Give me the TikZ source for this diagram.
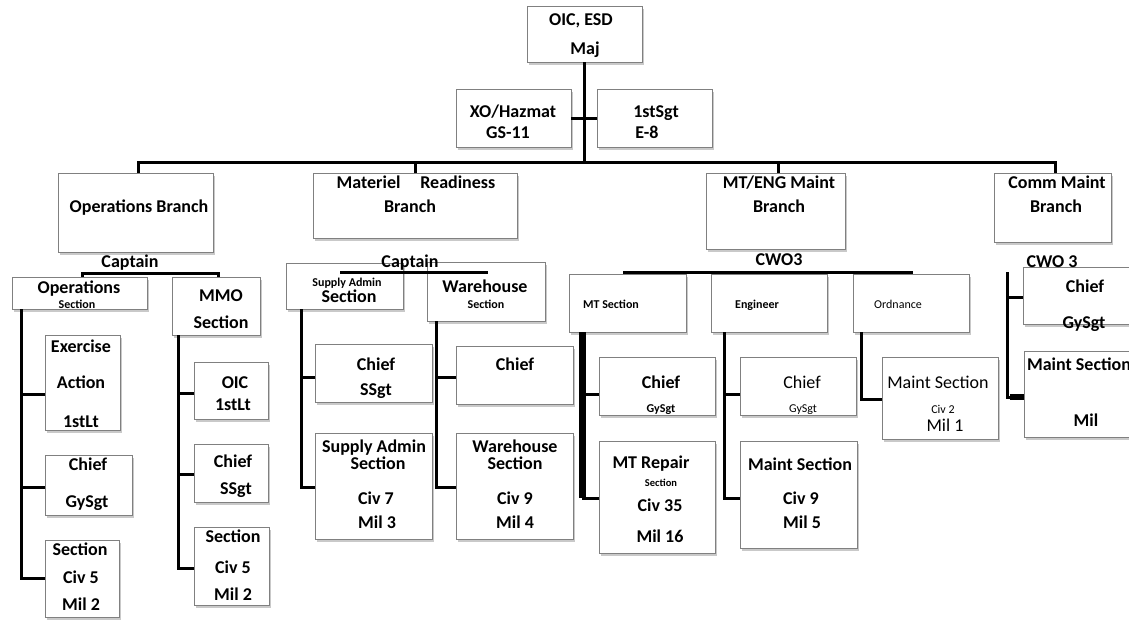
\documentclass[tikz,border=0pt]{standalone}
\usepackage{fontspec}
\setmainfont{Carlito}
\usetikzlibrary{shadows}
\newcommand{\obox}[5]{%
  \pgfmathsetmacro{\myBW}{#4-#2}%
  \pgfmathsetmacro{\myBH}{#5-#3}%
  \pgfmathsetmacro{\myBX}{(#2+#4)/2}%
  \pgfmathsetmacro{\myBY}{(#3+#5)/2}%
  \node[box, minimum width=\myBW pt, minimum height=\myBH pt] (#1) at (\myBX,\myBY) {};}
\tikzset{
  box/.style={draw=black!50, line width=1pt, fill=white, inner sep=0pt, outer sep=0pt,
    drop shadow={shadow xshift=1.5pt, shadow yshift=-2.5pt, opacity=0.3, fill=black!70}},
  txtbase/.style={inner sep=0pt, text height=0.64em, text depth=0pt, yshift=-2.5pt},
  big/.style={txtbase, font=\fontsize{18}{20}\selectfont\bfseries},
  bigr/.style={txtbase, font=\fontsize{18}{20}\selectfont},
  small/.style={txtbase, font=\fontsize{12}{14}\selectfont\bfseries},
  smallr/.style={txtbase, font=\fontsize{12}{14}\selectfont},
  tiny/.style={txtbase, font=\fontsize{10.5}{12}\selectfont\bfseries},
  conn/.style={line width=3pt, line join=miter}
}
\begin{document}
\begin{tikzpicture}[x=1pt,y=-1pt]
\useasboundingbox (0,0) rectangle (1129,619);
% ---- boxes
\obox{oic}{527}{6}{642}{62}
\obox{xo}{456}{89}{571}{147}
\obox{sgt}{597}{89}{712}{147}
\obox{ops}{58}{173}{213}{252}
\obox{opsec}{12}{277}{147}{309}
\obox{mmo}{172}{277}{260}{335}
\obox{exer}{45}{335}{120}{430}
\obox{ochief}{45}{455}{132}{515}
\obox{osec}{45}{540}{119}{617}
\obox{moic}{194}{362}{268}{419}
\obox{mchief}{194}{444}{268}{502}
\obox{msec}{194}{527}{269}{605}
\obox{mat}{313}{173}{517}{238}
\obox{sup}{286}{263}{403}{309}
\obox{wh}{427}{262}{545}{321}
\obox{schief}{315}{344}{432}{402}
\obox{ssec}{315}{433}{432}{539}
\obox{wchief}{456}{346}{573}{404}
\obox{wsec}{456}{433}{573}{539}
\obox{mt}{706}{173}{845}{249}
\obox{mtsec}{569}{274}{686}{332}
\obox{eng}{711}{274}{827}{332}
\obox{ord}{853}{274}{969}{332}
\obox{mtchief}{599}{357}{715}{415}
\obox{mtrep}{599}{441}{715}{553}
\obox{echief}{740}{357}{856}{415}
\obox{emaint}{740}{441}{857}{548}
\obox{omaint}{882}{357}{998}{439}
\obox{comm}{994}{173}{1111}{242}
\obox{cchief}{1023}{267}{1140}{324}
\obox{cmaint}{1024}{351}{1140}{437}
% ---- coordinates
\coordinate (bus) at (583,162);
\coordinate (opcap) at (150,273);
\coordinate (matL) at (340,272);
\coordinate (matR) at (488,272);
\coordinate (mtL) at (623,272);
\coordinate (mtR) at (913,272);
\coordinate (commv) at (1007,272);
% ---- connectors
\draw[conn] ([xshift=2.5pt]ops.north) |- (bus) -| ([xshift=2.5pt]comm.north);
\draw[conn] (oic.south) -- (oic.south |- bus);
\draw[conn] (xo.east) -- (sgt.west);
\draw[conn] (mat.north) -- (mat.north |- bus);
\draw[conn] ([xshift=2.5pt]mt.north) -- ([xshift=2.5pt]mt.north |- bus);
\draw[conn] ([xshift=2.5pt]opsec.north) |- (opcap) -| ([xshift=2pt]mmo.north);
\draw[conn] (matL) -- (matR);
\draw[conn] (mtL) -- (mtR);
% operations section
\draw[conn] ([xshift=9pt]opsec.south west) |- (osec.west);
\draw[conn] ([yshift=-11.5pt]exer.west) -- ++(-24,0);
\draw[conn] ([yshift=-2pt]ochief.west) -- ++(-24,0);
% mmo
\draw[conn] ([xshift=6pt]mmo.south west) |- ([yshift=-2pt]msec.west);
\draw[conn] ([yshift=-2.5pt]moic.west) -- ++(-16,0);
\draw[conn] ([yshift=-1pt]mchief.west) -- ++(-16,0);
% supply admin
\draw[conn] ([xshift=15pt]sup.south west) |- ([yshift=-1pt]ssec.west);
\draw[conn] ([yshift=-4pt]schief.west) -- ++(-14,0);
% warehouse
\draw[conn] ([xshift=9pt]wh.south west) |- ([yshift=-1pt]wsec.west);
\draw[conn] ([yshift=-2pt]wchief.west) -- ++(-20,0);
% MT section
\draw[line width=7pt] ([xshift=13pt]mtsec.south west) -- ([xshift=13pt,yshift=-1pt]mtsec.south west |- mtrep.west);
\draw[conn] ([yshift=-1pt]mtrep.west) -- ++(-17,0);
\draw[conn] ([yshift=-8pt]mtchief.west) -- ++(-17,0);
% engineer
\draw[conn] ([xshift=13pt]eng.south west) |- ([yshift=-3.5pt]emaint.west);
\draw[conn] ([yshift=-8pt]echief.west) -- ++(-16,0);
% ordnance
\draw[conn] ([xshift=8pt]ord.south west) |- ([yshift=-1pt]omaint.west);
% comm
\draw[conn] (commv) |- ([yshift=-1.5pt]cchief.west);
\draw[conn] (commv) |- ([yshift=-3pt]cmaint.west);
\draw[line width=6pt] ([yshift=-3pt]cmaint.west) -- ++(-14,0);
% ---- texts
\node[big] (t1) at (581,20) {OIC, ESD};
\node[big] (t2) at (585,49) {Maj};
\node[big] (t3) at (513,112) {XO/Hazmat};
\node[big] (t4) at (508,133) {GS-11};
\node[big] (t5) at (656,112) {1stSgt};
\node[big] (t6) at (647,133) {E-8};
\node[big] (t7) at (139,207) {Operations Branch};
\node[big] (t8) at (130,262) {Captain};
\node[big] (t9) at (79,288) {Operations};
\node[small] (t10) at (77,303) {Section};
\node[big] (t11) at (221,296) {MMO};
\node[big] (t12) at (221,323) {Section};
\node[big] (t13) at (81,347) {Exercise};
\node[big] (t14) at (81,383) {Action};
\node[big] (t15) at (81,422) {1stLt};
\node[big] (t16) at (88,465) {Chief};
\node[big] (t17) at (87,502) {GySgt};
\node[big] (t18) at (80,550) {Section};
\node[big] (t19) at (81,578) {Civ 5};
\node[big] (t20) at (81,605) {Mil 2};
\node[big] (t21) at (235,383) {OIC};
\node[big] (t22) at (233,405) {1stLt};
\node[big] (t23) at (233,462) {Chief};
\node[big] (t24) at (236,489) {SSgt};
\node[big] (t25) at (233,537) {Section};
\node[big] (t26) at (233,568) {Civ 5};
\node[big] (t27) at (233,595) {Mil 2};
\node[big] (t28) at (416,183) {Materiel\hspace{1.1em}Readiness};
\node[big] (t29) at (410,207) {Branch};
\node[big] (t30) at (410,262) {Captain};
\node[small] (t31) at (347,281) {Supply Admin};
\node[big] (t32) at (349,297) {Section};
\node[big] (t33) at (485,287) {Warehouse};
\node[small] (t34) at (486,303) {Section};
\node[big] (t35) at (376,365) {Chief};
\node[big] (t36) at (376,390) {SSgt};
\node[big] (t37) at (374,447) {Supply Admin};
\node[big] (t38) at (378,464) {Section};
\node[big] (t39) at (376,499) {Civ 7};
\node[big] (t40) at (377,523) {Mil 3};
\node[big] (t41) at (515,365) {Chief};
\node[big] (t42) at (515,447) {Warehouse};
\node[big] (t43) at (515,464) {Section};
\node[big] (t44) at (515,499) {Civ 9};
\node[big] (t45) at (515,523) {Mil 4};
\node[big] (t46) at (779,183) {MT/ENG Maint};
\node[big] (t47) at (779,207) {Branch};
\node[big] (t48) at (779,260) {CWO3};
\node[small] (t49) at (611,303) {MT Section};
\node[small] (t50) at (757,303) {Engineer};
\node[smallr] (t51) at (898,303) {Ordnance};
\node[big] (t52) at (661,383) {Chief};
\node[small] (t53) at (661,407) {GySgt};
\node[big] (t54) at (651,463) {MT Repair};
\node[tiny] (t55) at (661,481) {Section};
\node[big] (t56) at (660,506) {Civ 35};
\node[big] (t57) at (660,537) {Mil 16};
\node[bigr] (t58) at (802,383) {Chief};
\node[smallr] (t59) at (803,407) {GySgt};
\node[big] (t60) at (800,465) {Maint Section};
\node[big] (t61) at (801,499) {Civ 9};
\node[big] (t62) at (802,523) {Mil 5};
\node[bigr] (t63) at (938,383) {Maint Section};
\node[smallr] (t64) at (943,408) {Civ 2};
\node[bigr] (t65) at (945,426) {Mil 1};
\node[big] (t66) at (1057,183) {Comm Maint};
\node[big] (t67) at (1056,207) {Branch};
\node[big] (t68) at (1052,262) {CWO 3};
\node[big] (t69) at (1085,287) {Chief};
\node[big] (t70) at (1084,323) {GySgt};
\node[big] (t71) at (1079,365) {Maint Section};
\node[big] (t72) at (1086,421) {Mil};
\end{tikzpicture}
\end{document}
